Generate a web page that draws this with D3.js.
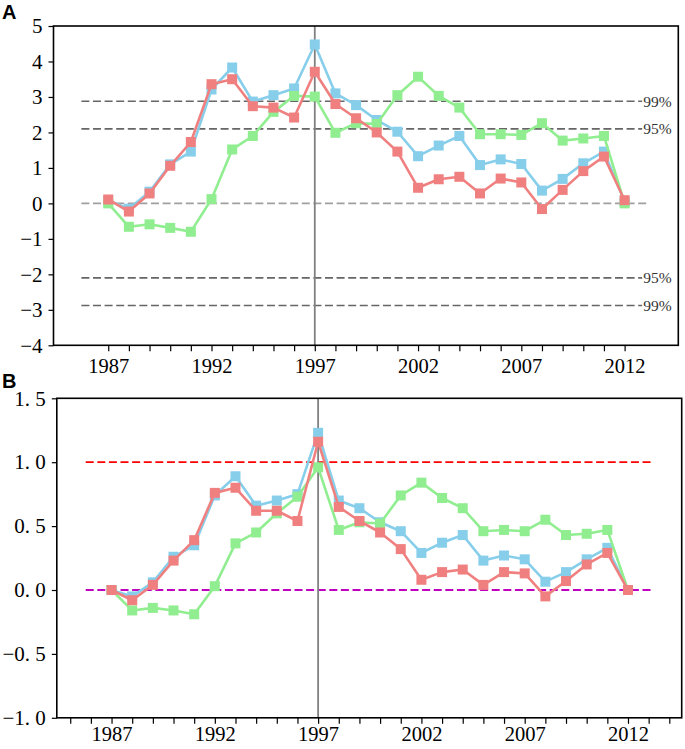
<!DOCTYPE html>
<html><head><meta charset="utf-8">
<script src="https://cdn.jsdelivr.net/npm/d3@7"></script>
<style>
html,body{margin:0;padding:0;background:#fff;}
svg{display:block;}
</style>
</head><body>
<svg id="chart" width="685" height="749"></svg>
<script>
// ---------- data ----------
const years = [1987,1988,1989,1990,1991,1992,1993,1994,1995,1996,1997,1998,1999,
               2000,2001,2002,2003,2004,2005,2006,2007,2008,2009,2010,2011,2012];

// Panel A (statistic values)
const aBlue  = [0.08,-0.15,0.33,1.10,1.46,3.21,3.83,2.87,3.05,3.24,4.48,3.10,2.77,
                2.35,2.02,1.33,1.63,1.90,1.08,1.24,1.11,0.36,0.69,1.13,1.46,0.05];
const aGreen = [0.00,-0.66,-0.59,-0.69,-0.80,0.12,1.52,1.90,2.58,3.03,3.01,1.99,2.26,
                2.24,3.05,3.57,3.03,2.70,1.95,1.95,1.93,2.26,1.77,1.83,1.90,0.00];
const aRed   = [0.11,-0.23,0.28,1.06,1.73,3.36,3.50,2.74,2.70,2.42,3.71,2.80,2.40,
                2.00,1.46,0.44,0.68,0.75,0.28,0.70,0.59,-0.16,0.38,0.91,1.32,0.09];

// Panel B
const bBlue  = [0.00,-0.05,0.06,0.26,0.35,0.74,0.89,0.66,0.70,0.75,1.23,0.70,0.64,
                0.53,0.46,0.29,0.37,0.43,0.23,0.27,0.24,0.065,0.14,0.24,0.33,0.00];
const bGreen = [0.00,-0.16,-0.14,-0.16,-0.19,0.03,0.365,0.45,0.60,0.73,0.96,0.47,0.53,
                0.52,0.74,0.84,0.72,0.64,0.46,0.47,0.46,0.55,0.43,0.44,0.47,0.00];
const bRed   = [0.00,-0.08,0.04,0.23,0.39,0.76,0.80,0.62,0.62,0.54,1.16,0.65,0.54,
                0.45,0.32,0.08,0.14,0.16,0.04,0.14,0.13,-0.05,0.07,0.20,0.29,0.00];

// reference lines
const aSigLevels = [2.88, 2.10, -2.10, -2.88];
const aSigLabels = ["99%", "95%", "95%", "99%"];
const aSigSpan = [1985.7, 2012.85];
const aZeroSpan = [1985.7, 2013.2];
const bLevels = [1.0, 0.0];
const bSpan = [1985.75, 2013.2];
const breakYear = 1997;

// ticks
const aYTicks = [-4,-3,-2,-1,0,1,2,3,4,5];
const bYTicks = [-1.0,-0.5,0.0,0.5,1.0,1.5];
const xLabelYears = [1987,1992,1997,2002,2007,2012];
const aXTickYears = years;
const bXTickYears = [1985,1986].concat(years).concat([2013,2014]);
const xDomain = [1984.35, 2014.6];

// ---------- styling ----------
const COL = {blue:"#87CEEB", green:"#90EE90", red:"#F08080"};
const FONT = "'Liberation Serif','Times New Roman',serif";
const svg = d3.select("#chart");

function fmtA(v){ return v < 0 ? "\u2212" + Math.abs(v) : String(v); }
function fmtB(v){
  const s = Math.abs(v).toFixed(1).replace(".", ". ");
  return v < 0 ? "\u2212" + s : s;
}

function panel(opts){
  const {left,right,top,bottom,yDomain,yTicks,yFmt,xTicks,xPad,series,letter,letterY} = opts;
  const x = d3.scaleLinear().domain(xDomain).range([left,right]);
  const y = d3.scaleLinear().domain(yDomain).range([bottom,top]);
  const g = svg.append("g");

  // panel letter
  svg.append("text").attr("x",2).attr("y",letterY)
    .attr("font-family","'Liberation Sans',Arial,sans-serif")
    .attr("font-weight","bold").attr("font-size",20).text(letter);

  opts.refLines(g,x,y);

  // vertical break line
  g.append("line").attr("x1",x(breakYear)).attr("x2",x(breakYear))
    .attr("y1",y(yDomain[1])).attr("y2",y(yDomain[0]))
    .attr("stroke","#808080").attr("stroke-width",1.8);

  // series
  const line = d3.line().x((d,i)=>x(years[i])).y(d=>y(d));
  series.forEach(s=>{
    g.append("path").datum(s.values).attr("d",line)
      .attr("fill","none").attr("stroke",s.color).attr("stroke-width",2.6)
      .attr("stroke-linejoin","round");
    g.selectAll(null).data(s.values).enter().append("rect")
      .attr("x",(d,i)=>x(years[i])-5).attr("y",d=>y(d)-5)
      .attr("width",10).attr("height",10).attr("fill",s.color);
  });

  // frame
  g.append("rect").attr("x",left).attr("y",top).attr("width",right-left).attr("height",bottom-top)
    .attr("fill","none").attr("stroke","#000").attr("stroke-width",1.6);

  // y axis
  const ya = g.append("g").attr("transform",`translate(${left},0)`)
    .call(d3.axisLeft(y).tickValues(yTicks).tickFormat(yFmt).tickSize(5).tickPadding(6));
  ya.select(".domain").remove();
  ya.selectAll(".tick line").attr("stroke","#000").attr("stroke-width",1.2);
  ya.selectAll("text").attr("font-family",FONT).attr("font-size",21).attr("fill","#000")
    .style("white-space","pre");

  // x axis
  const xa = g.append("g").attr("transform",`translate(0,${bottom})`)
    .call(d3.axisBottom(x).tickValues(xTicks)
      .tickFormat(d=>xLabelYears.includes(d)?String(d):"").tickSize(6).tickPadding(xPad));
  xa.select(".domain").remove();
  xa.selectAll(".tick line").attr("stroke","#000").attr("stroke-width",1.2);
  xa.selectAll("text").attr("font-family",FONT).attr("font-size",20.5).attr("fill","#000");
  return {x,y};
}

// Panel A
panel({
  left:53.5,right:678.3,top:26,bottom:345.3,
  yDomain:[-4,5],yTicks:aYTicks,yFmt:fmtA,xTicks:aXTickYears,xPad:7,
  letter:"A",letterY:19,
  series:[{values:aBlue,color:COL.blue},{values:aGreen,color:COL.green},{values:aRed,color:COL.red}],
  refLines:(g,x,y)=>{
    g.append("line").attr("x1",x(aZeroSpan[0])).attr("x2",x(aZeroSpan[1]))
      .attr("y1",y(0)).attr("y2",y(0))
      .attr("stroke","#a0a0a0").attr("stroke-width",1.6).attr("stroke-dasharray","8,3.6");
    aSigLevels.forEach((v,i)=>{
      g.append("line").attr("x1",x(aSigSpan[0])).attr("x2",x(aSigSpan[1]))
        .attr("y1",y(v)).attr("y2",y(v))
        .attr("stroke","#666").attr("stroke-width",1.6).attr("stroke-dasharray","8,3.6");
      g.append("text").attr("x",x(aSigSpan[1])+1).attr("y",y(v)).attr("dy","0.35em")
        .attr("font-family",FONT).attr("font-size",15.5).attr("fill","#333")
        .text(aSigLabels[i]);
    });
  }
});

// Panel B
panel({
  left:56.8,right:681.7,top:398.3,bottom:717.8,
  yDomain:[-1,1.5],yTicks:bYTicks,yFmt:fmtB,xTicks:bXTickYears,xPad:3,
  letter:"B",letterY:388,
  series:[{values:bBlue,color:COL.blue},{values:bGreen,color:COL.green},{values:bRed,color:COL.red}],
  refLines:(g,x,y)=>{
    const cols = ["#ff0000","#bf00bf"];
    bLevels.forEach((v,i)=>{
      g.append("line").attr("x1",x(bSpan[0])).attr("x2",x(bSpan[1]))
        .attr("y1",y(v)).attr("y2",y(v))
        .attr("stroke",cols[i]).attr("stroke-width",1.8).attr("stroke-dasharray","8,3.6");
    });
  }
});
</script>
</body></html>
